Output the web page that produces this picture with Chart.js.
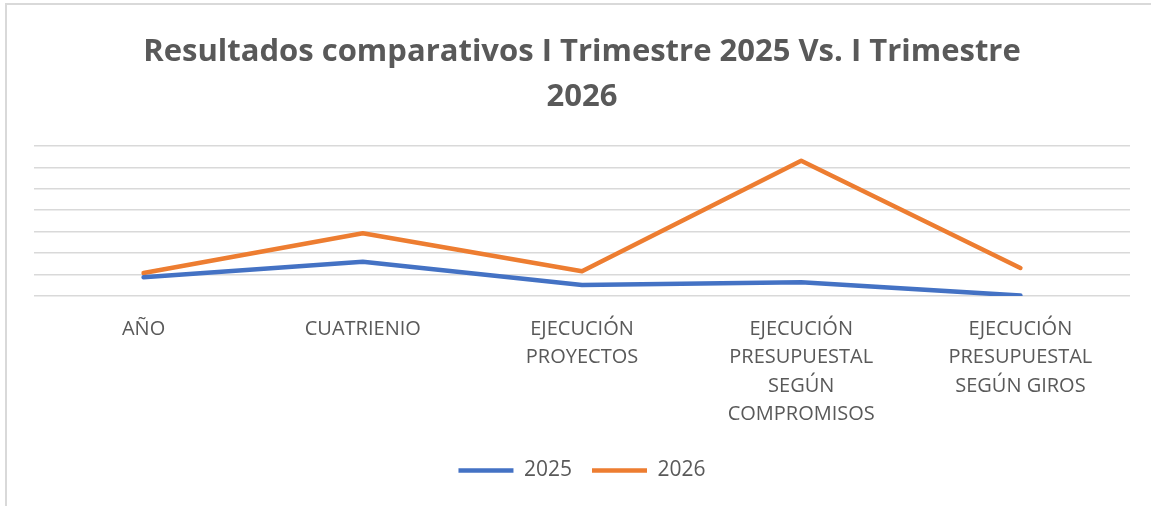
<!DOCTYPE html>
<html>
<head>
<meta charset="utf-8">
<script src="https://cdn.jsdelivr.net/npm/chart.js@4/dist/chart.umd.min.js"></script>
<style>
  html, body { margin: 0; padding: 0; background: #fff; }
  #wrap { position: relative; width: 1151px; height: 506px; overflow: hidden; }
  #frame { position: absolute; left: 5px; top: 3px; width: 1160px; height: 520px;
           border-top: 2px solid #d9d9d9; border-left: 2px solid #d9d9d9; }
  canvas { position: absolute; left: 0; top: 0; }
</style>
</head>
<body>
<div id="wrap">
  <div id="frame"></div>
  <canvas id="chart" width="1151" height="506"></canvas>
</div>
<script>
const categories = [
  ['AÑO'],
  ['CUATRIENIO'],
  ['EJECUCIÓN', 'PROYECTOS'],
  ['EJECUCIÓN', 'PRESUPUESTAL', 'SEGÚN', 'COMPROMISOS'],
  ['EJECUCIÓN', 'PRESUPUESTAL', 'SEGÚN GIROS']
];
const values2025 = [8.7, 16.0, 5.1, 6.4, 0.2];
const values2026 = [10.7, 29.3, 11.5, 63.1, 13.1];
const titleLines = ['Resultados comparativos I Trimestre 2025 Vs. I Trimestre', '2026'];

const textColor = '#595959';
const fontFamily = '"Open Sans", "Noto Sans", sans-serif';

const ctx = document.getElementById('chart').getContext('2d');

new Chart(ctx, {
  type: 'line',
  data: {
    labels: categories,
    datasets: [
      {
        label: '2025',
        data: values2025,
        borderColor: '#4472C4',
        backgroundColor: '#4472C4',
        borderWidth: 4.5,
        borderCapStyle: 'round',
        borderJoinStyle: 'round',
        pointRadius: 0,
        tension: 0
      },
      {
        label: '2026',
        data: values2026,
        borderColor: '#ED7D31',
        backgroundColor: '#ED7D31',
        borderWidth: 4.5,
        borderCapStyle: 'round',
        borderJoinStyle: 'round',
        pointRadius: 0,
        tension: 0
      }
    ]
  },
  options: {
    responsive: false,
    animation: false,
    layout: { padding: { left: 34, right: 21, top: 0, bottom: 15 } },
    plugins: {
      title: {
        display: true,
        text: titleLines,
        color: textColor,
        font: { family: fontFamily, size: 31, weight: 'bold', lineHeight: 1.45 },
        padding: { top: 30, bottom: 26 }
      },
      legend: {
        position: 'bottom',
        labels: {
          color: textColor,
          font: { family: fontFamily, size: 21 },
          usePointStyle: true,
          pointStyle: 'line',
          pointStyleWidth: 55,
          padding: 20
        }
      },
      tooltip: { enabled: false }
    },
    scales: {
      x: {
        offset: true,
        grid: { display: false },
        border: { display: false },
        ticks: {
          color: textColor,
          font: { family: fontFamily, size: 20, lineHeight: 1.425 },
          maxRotation: 0,
          autoSkip: false,
          padding: 11
        }
      },
      y: {
        min: 0,
        max: 70,
        ticks: { display: false, stepSize: 10 },
        grid: { color: '#d9d9d9', lineWidth: 1.5, drawTicks: false },
        border: { display: false }
      }
    }
  }
});
</script>
</body>
</html>
